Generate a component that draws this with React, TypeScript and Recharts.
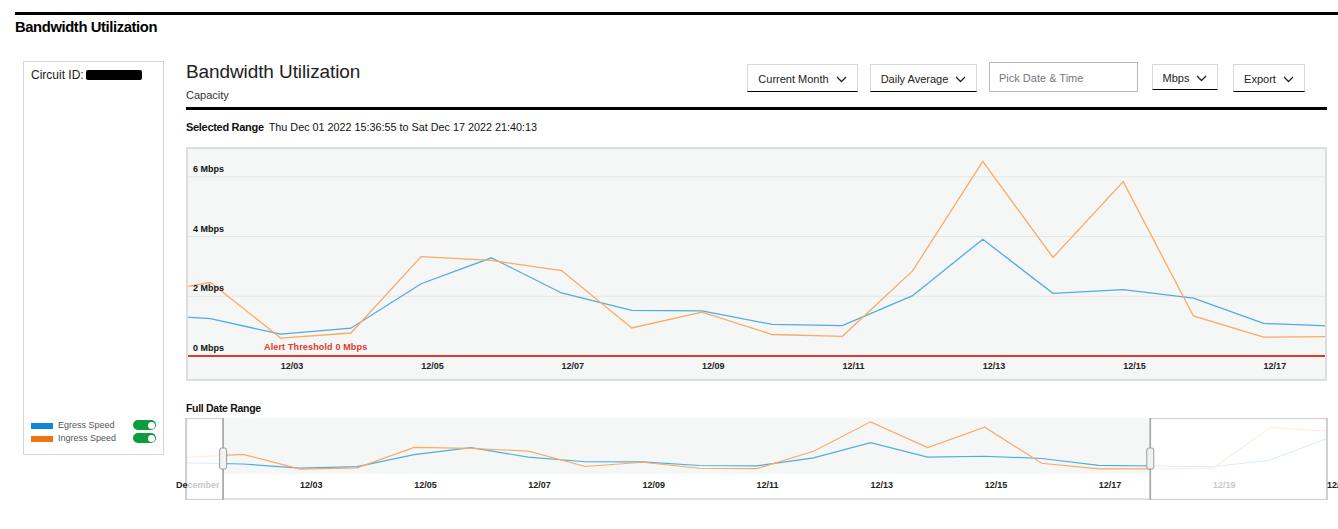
import React from 'react';
import { LineChart, Line, XAxis, YAxis, CartesianGrid, ReferenceLine, ReferenceArea } from 'recharts';

// daily averages, December 2022 (Mbps)
const days = [1, 2, 3, 4, 5, 6, 7, 8, 9, 10, 11, 12, 13, 14, 15, 16, 17, 18, 19, 20, 21];
const egressSpeed = [1.39, 1.25, 0.73, 0.93, 2.42, 3.29, 2.11, 1.53, 1.51, 1.06, 1.02, 2.02, 3.91, 2.1, 2.22, 1.94, 1.09, 1.0, 0.88, 1.75, 4.44];
const ingressSpeed = [2.07, 2.46, 0.6, 0.77, 3.33, 3.2, 2.86, 0.94, 1.47, 0.72, 0.66, 2.85, 6.52, 3.3, 5.84, 1.34, 0.63, 0.65, 0.68, 5.82, 5.37];

const mainTicks = [3, 5, 7, 9, 11, 13, 15, 17];
const fullTicks = [1, 3, 5, 7, 9, 11, 13, 15, 17, 19, 21];
const yTicks = [0, 2, 4, 6];

// selected range: Thu Dec 01 2022 15:36:55 -> Sat Dec 17 2022 21:40:13
const rangeStart = 1 + (15 * 3600 + 36 * 60 + 55) / 86400;
const rangeEnd = 17 + (21 * 3600 + 40 * 60 + 13) / 86400;

const data = days.map((d, i) => ({ day: d, egress: egressSpeed[i], ingress: ingressSpeed[i] }));

const FONT = '"Liberation Sans", Arial, Helvetica, sans-serif';
const BLUE_LINE = '#52abe1';
const ORANGE_LINE = '#f9aa66';
const FADED = '#c9c9c9';

const dayLabel = (d: number) => (d === 1 ? 'December' : '12/' + String(d).padStart(2, '0'));

const MainXTick = (props: any) => (
  <text x={props.x} y={props.y + 2} dy="0.35em" textAnchor="start" fontSize={9} fontWeight="bold" fill="#222" fontFamily={FONT}>
    {dayLabel(props.payload.value)}
  </text>
);

// labels under the unselected part of the overview are greyed out
const FullXTick = (props: any) => {
  const v = props.payload.value;
  const common = { y: props.y + 3, dy: '0.35em', textAnchor: 'start' as const, fontSize: 9, fontWeight: 'bold', fontFamily: FONT };
  if (v === 1) {
    return (
      <text x={props.x - 10} {...common} fill="#222">
        De<tspan fill={FADED}>cember</tspan>
      </text>
    );
  }
  const faded = v > rangeEnd && v < 21;
  return (
    <text x={props.x} {...common} fill={faded ? FADED : '#222'}>
      {dayLabel(v)}
    </text>
  );
};

const YTick = (props: any) => (
  <text x={7} y={props.y - 8} dy="0.35em" textAnchor="start" fontSize={9} fontWeight="bold" fill="#111" fontFamily={FONT}>
    {props.payload.value + ' Mbps'}
  </text>
);

const ThresholdLabel = (props: any) => {
  const vb = props.viewBox || {};
  return (
    <text x={vb.x + 78} y={vb.y - 6} textAnchor="start" fontSize={9} fontWeight="bold" fill="#e0392f" fontFamily={FONT} letterSpacing={0.15}>
      Alert Threshold 0 Mbps
    </text>
  );
};

const outsideShape = (side: 'left' | 'right') => (p: any) => {
  const hx = side === 'left' ? p.x + p.width : p.x;
  const h = p.height + 26;
  return (
    <g>
      <rect x={p.x} y={p.y} width={p.width} height={h} fill="#fff" fillOpacity={0.8} stroke="#c2c2c2" strokeWidth={1.5} />
      <line x1={hx} x2={hx} y1={p.y} y2={p.y + h} stroke="#a8a8a8" strokeWidth={1.5} />
      <rect x={hx - 3.5} y={p.y + 30} width={7} height={21} rx={2} fill="#f2f2f2" stroke="#9a9a9a" strokeWidth={1} />
    </g>
  );
};

const Chevron = () => (
  <svg width="11" height="7" viewBox="0 0 11 7" style={{ marginLeft: 7 }}>
    <polyline points="1,1 5.5,5.5 10,1" fill="none" stroke="#222" strokeWidth="1.3" />
  </svg>
);

const Dropdown = ({ label, left, width, top = 64, height = 28 }: any) => (
  <div
    style={{
      position: 'absolute', left, top, width, height, boxSizing: 'border-box',
      border: '1px solid #d8dada', borderBottom: '1px solid #000',
      display: 'flex', alignItems: 'center', justifyContent: 'center',
      fontSize: 11, color: '#222', paddingTop: 2,
    }}
  >
    {label}
    <Chevron />
  </div>
);

const Toggle = ({ top }: { top: number }) => (
  <div style={{ position: 'absolute', left: 133, top, width: 23, height: 10, borderRadius: 5, background: '#0d9b40' }}>
    <div style={{ position: 'absolute', right: 1.5, top: 1.5, width: 7, height: 7, borderRadius: 4, background: '#fff' }} />
  </div>
);

export default function App() {
  return (
    <div style={{ position: 'relative', width: 1338, height: 529, overflow: 'hidden', background: '#fff', fontFamily: FONT, color: '#222' }}>
      <style>{'body{margin:0;overflow:hidden}'}</style>

      <div style={{ position: 'absolute', left: 15, top: 12, width: 1323, height: 3, background: '#000' }} />
      <div style={{ position: 'absolute', left: 15, top: 19, fontSize: 14.8, fontWeight: 'bold', letterSpacing: -0.4, color: '#000' }}>
        Bandwidth Utilization
      </div>

      {/* side panel */}
      <div style={{ position: 'absolute', left: 23, top: 61, width: 141, height: 394, boxSizing: 'border-box', border: '1px solid #d6d6d6' }} />
      <div style={{ position: 'absolute', left: 31, top: 68, fontSize: 12, color: '#222' }}>Circuit ID:</div>
      <div style={{ position: 'absolute', left: 86, top: 70, width: 56, height: 10, background: '#000', borderRadius: 2 }} />
      <div style={{ position: 'absolute', left: 31, top: 423, width: 22, height: 6, background: '#0f87d8' }} />
      <div style={{ position: 'absolute', left: 58, top: 420, fontSize: 9, color: '#555' }}>Egress Speed</div>
      <Toggle top={420} />
      <div style={{ position: 'absolute', left: 31, top: 436, width: 22, height: 6, background: '#f07414' }} />
      <div style={{ position: 'absolute', left: 58, top: 433, fontSize: 9, color: '#555' }}>Ingress Speed</div>
      <Toggle top={433} />

      {/* header */}
      <div style={{ position: 'absolute', left: 186, top: 61, fontSize: 19, letterSpacing: -0.1, color: '#222' }}>Bandwidth Utilization</div>
      <div style={{ position: 'absolute', left: 186, top: 89, fontSize: 11, color: '#333' }}>Capacity</div>
      <Dropdown label="Current Month" left={747} width={111} />
      <Dropdown label="Daily Average" left={870} width={107} />
      <div
        style={{
          position: 'absolute', left: 989, top: 62, width: 149, height: 30, boxSizing: 'border-box',
          border: '1px solid #b8b8b8', fontSize: 11, color: '#777', padding: '9px 0 0 9px',
        }}
      >
        Pick Date &amp; Time
      </div>
      <Dropdown label="Mbps" left={1152} width={66} height={26} />
      <Dropdown label="Export" left={1233} width={72} />
      <div style={{ position: 'absolute', left: 186, top: 107, width: 1141, height: 3, background: '#000' }} />

      <div style={{ position: 'absolute', left: 186, top: 121, fontSize: 11, color: '#111', whiteSpace: 'nowrap' }}>
        <span style={{ fontWeight: 'bold', letterSpacing: -0.3 }}>Selected Range</span>
        <span style={{ marginLeft: 5, fontSize: 10.8 }}>Thu Dec 01 2022 15:36:55 to Sat Dec 17 2022 21:40:13</span>
      </div>

      {/* main chart */}
      <div style={{ position: 'absolute', left: 186, top: 147, width: 1141, height: 234, background: '#f5f6f6' }}>
        <LineChart width={1141} height={234} data={data} margin={{ top: 0, right: 0, bottom: 0, left: 0 }}>
          <CartesianGrid vertical={false} stroke="#e4e6e6" />
          <XAxis
            dataKey="day"
            type="number"
            domain={[rangeStart, rangeEnd]}
            allowDataOverflow
            ticks={mainTicks}
            tick={<MainXTick />}
            tickLine={false}
            axisLine={false}
            height={25}
          />
          <YAxis domain={[0, 7]} ticks={yTicks} width={60} mirror tick={<YTick />} tickLine={false} axisLine={false} />
          <ReferenceLine y={0} stroke="#e0392f" strokeWidth={1.8} label={<ThresholdLabel />} />
          <Line type="linear" dataKey="egress" stroke={BLUE_LINE} strokeWidth={1.3} dot={false} activeDot={false} isAnimationActive={false} />
          <Line type="linear" dataKey="ingress" stroke={ORANGE_LINE} strokeWidth={1.3} dot={false} activeDot={false} isAnimationActive={false} />
        </LineChart>
        <div style={{ position: 'absolute', inset: 0, border: '2px solid #dcdede', pointerEvents: 'none' }} />
      </div>

      <div style={{ position: 'absolute', left: 186, top: 402, fontSize: 10.5, fontWeight: 'bold', letterSpacing: -0.3, color: '#111' }}>
        Full Date Range
      </div>

      {/* full range overview */}
      <div style={{ position: 'absolute', left: 186, top: 418, width: 1141, height: 82 }}>
        <div style={{ position: 'absolute', inset: 0, border: '2px solid #e2e2e2', boxSizing: 'border-box' }} />
        <div style={{ position: 'absolute', left: -10, top: 0 }}>
          <LineChart width={1162} height={82} data={data} margin={{ top: 0, right: 11, bottom: 0, left: 10 }}>
            <ReferenceArea x1={rangeStart} x2={rangeEnd} fill="#f5f7f7" fillOpacity={1} stroke="none" zIndex={50} />
            <XAxis
              dataKey="day"
              type="number"
              domain={[1, 21]}
              ticks={fullTicks}
              tick={<FullXTick />}
              tickLine={false}
              axisLine={false}
              height={26}
            />
            <YAxis domain={[0, 7]} hide />
            <Line type="linear" dataKey="egress" stroke={BLUE_LINE} strokeWidth={1.2} dot={false} activeDot={false} isAnimationActive={false} />
            <Line type="linear" dataKey="ingress" stroke={ORANGE_LINE} strokeWidth={1.2} dot={false} activeDot={false} isAnimationActive={false} />
            <ReferenceArea x1={1} x2={rangeStart} shape={outsideShape('left')} zIndex={1500} />
            <ReferenceArea x1={rangeEnd} x2={21} shape={outsideShape('right')} zIndex={1500} />
          </LineChart>
        </div>
      </div>
    </div>
  );
}
